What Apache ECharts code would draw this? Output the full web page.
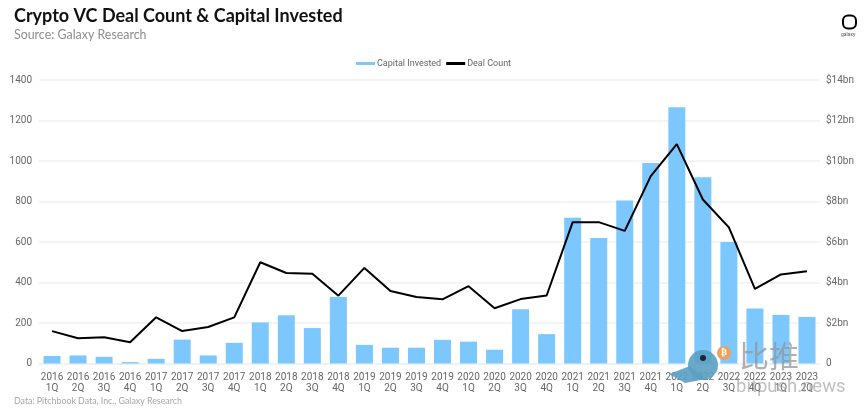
<!DOCTYPE html>
<html>
<head>
<meta charset="utf-8">
<style>
html,body{margin:0;padding:0;background:#fff}
#main{width:865px;height:413px}
</style>
<script src="https://cdn.jsdelivr.net/npm/echarts@6/dist/echarts.min.js"></script>
</head>
<body>
<div id="main"></div>
<script>
var categories = ['2016\n1Q','2016\n2Q','2016\n3Q','2016\n4Q','2017\n1Q','2017\n2Q','2017\n3Q','2017\n4Q',
	'2018\n1Q','2018\n2Q','2018\n3Q','2018\n4Q','2019\n1Q','2019\n2Q','2019\n3Q','2019\n4Q',
	'2020\n1Q','2020\n2Q','2020\n3Q','2020\n4Q','2021\n1Q','2021\n2Q','2021\n3Q','2021\n4Q',
	'2022\n1Q','2022\n2Q','2022\n3Q','2022\n4Q','2023\n1Q','2023\n2Q']
// capital invested, $bn
var capitalInvested = [0.37,0.40,0.33,0.07,0.23,1.18,0.40,1.02,2.03,2.38,1.75,3.28,0.92,0.78,0.78,1.17,
	1.08,0.68,2.68,1.45,7.20,6.20,8.05,9.90,12.65,9.20,6.00,2.72,2.40,2.30]
var dealCount = [160,125,130,105,228,160,180,228,500,447,443,335,472,358,328,317,
	382,273,318,336,698,698,655,925,1083,810,672,368,440,455]

var myChart = echarts.init(document.getElementById('main'))
var font = 'Lato, "Noto Sans", sans-serif'
var labelFont = 'Roboto, "Liberation Sans", sans-serif'

var option = {
	animation: false,
	backgroundColor: '#fff',
	textStyle: {fontFamily: labelFont},
	grid: {left: 39, right: 45, top: 80, bottom: 49.5},
	legend: {
		top: 54,
		left: 351,
		itemGap: 5,
		itemWidth: 19,
		itemHeight: 3,
		textStyle: {color: '#666', fontSize: 9, fontFamily: labelFont, padding: [0, 0, 0, -3]},
		data: [
			{name: 'Capital Invested', icon: 'rect', itemStyle: {color: '#7cc8fe'}},
			{name: 'Deal Count', icon: 'rect', itemStyle: {color: '#000'}}
		]
	},
	xAxis: {
		type: 'category',
		data: categories,
		axisLine: {lineStyle: {color: '#f0f0f0', width: 1.5}},
		axisTick: {show: false},
		axisLabel: {interval: 0, color: '#666', fontSize: 10, lineHeight: 11, margin: 8}
	},
	yAxis: [{
		type: 'value',
		min: 0,
		max: 1400,
		interval: 200,
		axisLine: {show: false},
		axisTick: {show: false},
		axisLabel: {
			color: '#666', fontSize: 10, margin: 7,
			formatter: function (v) { return String(v) }
		},
		splitLine: {lineStyle: {color: '#f0f0f0', width: 1.5}}
	}, {
		type: 'value',
		min: 0,
		max: 14,
		interval: 2,
		axisLine: {show: false},
		axisTick: {show: false},
		axisLabel: {
			color: '#666', fontSize: 10, margin: 6,
			formatter: function (v) { return v === 0 ? '0' : '$' + v + 'bn' }
		},
		splitLine: {show: false}
	}],
	series: [{
		name: 'Capital Invested',
		type: 'bar',
		yAxisIndex: 1,
		barWidth: 17,
		data: capitalInvested,
		itemStyle: {color: '#7cc8fe'}
	}, {
		name: 'Deal Count',
		type: 'line',
		yAxisIndex: 0,
		data: dealCount,
		symbol: 'none',
		lineStyle: {color: '#000', width: 2},
		z: 5
	}],
	graphic: [
		{type: 'text', left: 14, top: 7, style: {text: 'Crypto VC Deal Count & Capital Invested', fill: '#111', font: '700 18px ' + font}},
		{type: 'text', left: 14, top: 29, style: {text: 'Source: Galaxy Research', fill: '#8c8c8c', font: '12.4px ' + font}},
		{type: 'text', left: 14, top: 397, style: {text: 'Data: Pitchbook Data, Inc., Galaxy Research', fill: '#a6a6a6', font: '8.8px ' + font}},
		// galaxy logo
		{type: 'rect', shape: {x: 843, y: 15.5, width: 13, height: 13, r: 5}, style: {fill: 'none', stroke: '#000', lineWidth: 2}},
		{type: 'text', left: 841, top: 32, style: {text: 'galaxy', fill: '#555', font: '5px ' + labelFont}},
		// bitpush watermark
		{type: 'text', left: 739, top: 341, z: 20, style: {text: '比推', fill: 'rgba(150,150,150,0.75)', font: '30px "Noto Sans CJK SC"'}},
		{type: 'text', left: 736, top: 378, z: 20, style: {text: 'bitpush.news', fill: 'rgba(150,150,150,0.6)', font: '18.5px ' + labelFont}},
		{type: 'circle', z: 20, shape: {cx: 703, cy: 365, r: 15}, style: {fill: 'rgba(90,160,195,0.9)'}},
		{type: 'polygon', z: 20, shape: {points: [[669,374],[690,366],[706,379],[685,383]]}, style: {fill: 'rgba(90,160,195,0.9)'}},
		{type: 'circle', z: 21, shape: {cx: 703, cy: 358, r: 3}, style: {fill: '#223'}},
		{type: 'circle', z: 20, shape: {cx: 724, cy: 353, r: 7}, style: {fill: '#e8a25a'}},
		{type: 'text', left: 721, top: 348, z: 21, style: {text: '₿', fill: '#fff', font: 'bold 9px "DejaVu Sans"'}}
	]
}
myChart.setOption(option)
</script>
</body>
</html>
